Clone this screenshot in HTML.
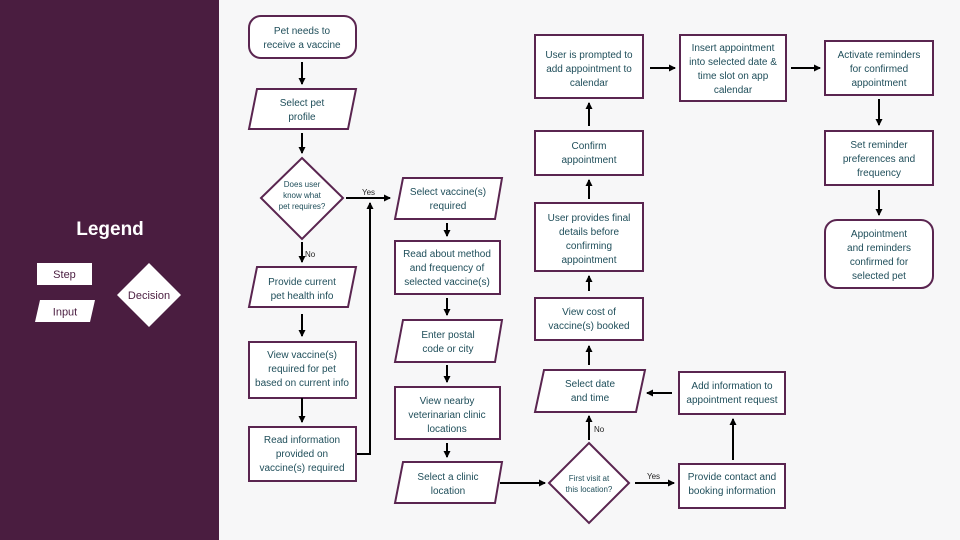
<!DOCTYPE html>
<html><head><meta charset="utf-8"><style>
body{margin:0;width:960px;height:540px;overflow:hidden;background:#f7f7f8;}
svg{display:block}
text{font-family:"Liberation Sans",sans-serif;}
</style></head><body>
<svg width="960" height="540" viewBox="0 0 960 540">
<defs><marker id="a" markerWidth="8" markerHeight="8" refX="6" refY="4" orient="auto" markerUnits="userSpaceOnUse"><path d="M0,0.5 L7,4 L0,7.5z" fill="#000"/></marker></defs>
<rect x="0" y="0" width="219" height="540" fill="#4a1d40"/>
<text x="110" y="235" fill="#fff" font-size="19" font-weight="bold" text-anchor="middle">Legend</text>
<rect x="37" y="263" width="55" height="22" fill="#fff"/>
<text x="64.5" y="278" fill="#4a1d40" font-size="11" text-anchor="middle">Step</text>
<polygon points="40,300 95,300 90,322 35,322" fill="#fff"/>
<text x="65" y="315.5" fill="#4a1d40" font-size="11" text-anchor="middle">Input</text>
<polygon points="149,263 181,295 149,327 117,295" fill="#fff"/>
<text x="149" y="299" fill="#4a1d40" font-size="11" text-anchor="middle">Decision</text>

<g fill="#fff" stroke="#5a2550" stroke-width="2">
<rect x="249" y="16" width="107" height="42" rx="12"/>
<polygon points="257,89 356,89 348,129 249,129"/>
<polygon points="302,158 343,198 302,239 261,198"/>
<polygon points="257,267 356,267 348,307 249,307"/>
<rect x="249" y="342" width="107" height="56"/>
<rect x="249" y="427" width="107" height="54"/>
<polygon points="403,178 502,178 495,219 395,219"/>
<rect x="395" y="241" width="105" height="53"/>
<polygon points="403,320 502,320 495,362 395,362"/>
<rect x="395" y="387" width="105" height="52"/>
<polygon points="403,462 502,462 495,503 395,503"/>
<polygon points="589,443 629,483 589,523 549,483"/>
<rect x="679" y="464" width="106" height="44"/>
<rect x="679" y="372" width="106" height="42"/>
<polygon points="544,370 645,370 636,412 535,412"/>
<rect x="535" y="298" width="108" height="42"/>
<rect x="535" y="203" width="108" height="68"/>
<rect x="535" y="131" width="108" height="44"/>
<rect x="535" y="35" width="108" height="63"/>
<rect x="680" y="35" width="106" height="66"/>
<rect x="825" y="41" width="108" height="54"/>
<rect x="825" y="131" width="108" height="54"/>
<rect x="825" y="220" width="108" height="68" rx="12"/>
</g>

<g stroke="#000" stroke-width="2" fill="none" marker-end="url(#a)">
<line x1="302" y1="62" x2="302" y2="84"/>
<line x1="302" y1="133" x2="302" y2="153"/>
<line x1="302" y1="242" x2="302" y2="262"/>
<line x1="302" y1="314" x2="302" y2="336"/>
<line x1="302" y1="398" x2="302" y2="422"/>
<line x1="346" y1="198" x2="390" y2="198"/>
<polyline points="357,454 370,454 370,203"/>
<line x1="447" y1="223" x2="447" y2="236"/>
<line x1="447" y1="298" x2="447" y2="315"/>
<line x1="447" y1="365" x2="447" y2="382"/>
<line x1="447" y1="443" x2="447" y2="457"/>
<line x1="500" y1="483" x2="545" y2="483"/>
<line x1="635" y1="483" x2="674" y2="483"/>
<line x1="733" y1="460" x2="733" y2="419"/>
<line x1="672" y1="393" x2="647" y2="393"/>
<line x1="589" y1="440" x2="589" y2="416"/>
<line x1="589" y1="365" x2="589" y2="346"/>
<line x1="589" y1="291" x2="589" y2="276"/>
<line x1="589" y1="199" x2="589" y2="180"/>
<line x1="589" y1="126" x2="589" y2="103"/>
<line x1="650" y1="68" x2="675" y2="68"/>
<line x1="791" y1="68" x2="820" y2="68"/>
<line x1="879" y1="99" x2="879" y2="125"/>
<line x1="879" y1="190" x2="879" y2="215"/>
</g>

<g font-size="8" fill="#222">
<text x="362" y="195">Yes</text>
<text x="305" y="257">No</text>
<text x="594" y="432">No</text>
<text x="647" y="479">Yes</text>
</g>

<g fill="#1f4e5a" font-size="10" text-anchor="middle">
<text x="302" y="34">Pet needs to</text><text x="302" y="48">receive a vaccine</text>
<text x="302" y="106">Select pet</text><text x="302" y="120">profile</text>
<text x="302" y="187" font-size="8">Does user</text><text x="302" y="198" font-size="8">know what</text><text x="302" y="209" font-size="8">pet requires?</text>
<text x="302" y="285">Provide current</text><text x="302" y="299">pet health info</text>
<text x="302" y="358">View vaccine(s)</text><text x="302" y="372">required for pet</text><text x="302" y="386">based on current info</text>
<text x="302" y="443">Read information</text><text x="302" y="457">provided on</text><text x="302" y="471">vaccine(s) required</text>
<text x="448" y="195">Select vaccine(s)</text><text x="448" y="209">required</text>
<text x="447" y="257">Read about method</text><text x="447" y="271">and frequency of</text><text x="447" y="285">selected vaccine(s)</text>
<text x="448" y="338">Enter postal</text><text x="448" y="352">code or city</text>
<text x="447" y="404">View nearby</text><text x="447" y="418">veterinarian clinic</text><text x="447" y="432">locations</text>
<text x="448" y="480">Select a clinic</text><text x="448" y="494">location</text>
<text x="589" y="481" font-size="8">First visit at</text><text x="589" y="492" font-size="8">this location?</text>
<text x="732" y="480">Provide contact and</text><text x="732" y="494">booking information</text>
<text x="732" y="389">Add information to</text><text x="732" y="403">appointment request</text>
<text x="590" y="387">Select date</text><text x="590" y="401">and time</text>
<text x="589" y="315">View cost of</text><text x="589" y="329">vaccine(s) booked</text>
<text x="589" y="221">User provides final</text><text x="589" y="235">details before</text><text x="589" y="249">confirming</text><text x="589" y="263">appointment</text>
<text x="589" y="149">Confirm</text><text x="589" y="163">appointment</text>
<text x="589" y="58">User is prompted to</text><text x="589" y="72">add appointment to</text><text x="589" y="86">calendar</text>
<text x="733" y="51">Insert appointment</text><text x="733" y="65">into selected date &amp;</text><text x="733" y="79">time slot on app</text><text x="733" y="93">calendar</text>
<text x="879" y="58">Activate reminders</text><text x="879" y="72">for confirmed</text><text x="879" y="86">appointment</text>
<text x="879" y="148">Set reminder</text><text x="879" y="162">preferences and</text><text x="879" y="176">frequency</text>
<text x="879" y="237">Appointment</text><text x="879" y="251">and reminders</text><text x="879" y="265">confirmed for</text><text x="879" y="279">selected pet</text>
</g>
</svg>
</body></html>
